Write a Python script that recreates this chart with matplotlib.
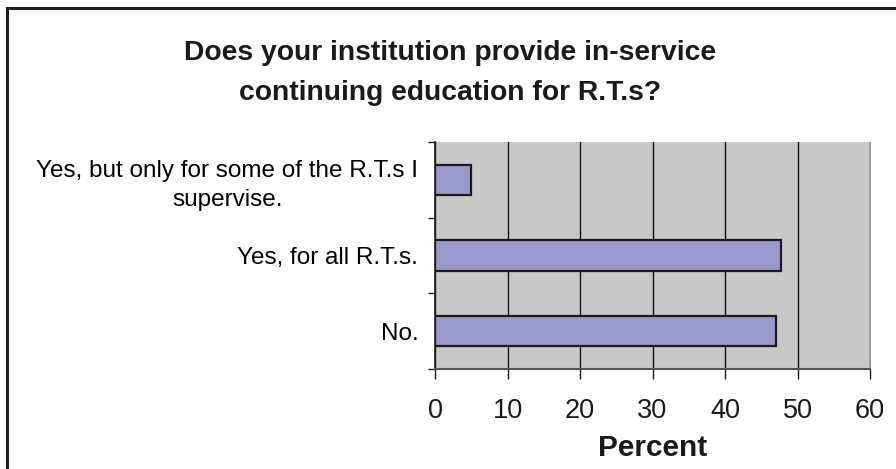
import matplotlib.pyplot as plt
from matplotlib.lines import Line2D

plt.rcParams['font.family'] = ['Liberation Sans', 'DejaVu Sans']

# survey answers, bottom to top
answers = ['No.', 'Yes, for all R.T.s.', 'Yes, but only for some of the R.T.s I\nsupervise.']
percent = [47.0, 47.7, 5.0]
xticks = [0, 10, 20, 30, 40, 50, 60]

fig = plt.figure(figsize=(8.96, 4.69), dpi=100)
ax = fig.add_axes([0.4855, 0.2132, 0.4855, 0.484])

ax.set_facecolor('#C8C8C8')
pos = list(range(len(answers)))
ax.barh(pos, percent, height=0.4, color='#9999CC', edgecolor='#1a1a1a', linewidth=1.6, zorder=3)

ax.set_xlim(0, 60)
ax.set_ylim(-0.5, len(answers) - 0.5)
ax.set_xticks(xticks)
ax.set_xticklabels([str(t) for t in xticks], fontsize=19.5)
ax.xaxis.grid(True, color='#111111', linewidth=1.0, zorder=1)
ax.tick_params(axis='x', length=7, width=1, pad=14, colors='#1a1a1a')

ax.set_yticks(pos)
ax.set_yticklabels(answers, fontsize=17.5, multialignment='center', linespacing=1.4)
ax.set_yticks([p - 0.5 for p in pos] + [len(answers) - 0.5], minor=True)
ax.tick_params(axis='y', which='major', length=0, pad=12)
ax.tick_params(axis='y', which='minor', length=5, width=1, color='#1a1a1a')

ax.spines['top'].set_visible(False)
ax.spines['right'].set_color('#999999')
ax.spines['left'].set_color('#1a1a1a')
ax.spines['bottom'].set_color('#555555')
ax.spines['left'].set_linewidth(1.2)
ax.spines['bottom'].set_linewidth(1.5)

ax.set_xlabel('Percent', fontsize=21.5, fontweight='bold', labelpad=7, color='#1a1a1a')

fig.text(0.502, 1 - 73 / 469, 'Does your institution provide in-service\ncontinuing education for R.T.s?',
         ha='center', va='center', fontsize=20.3, fontweight='bold', linespacing=1.7, color='#1a1a1a')

# outer frame on the top and left edges
fig.add_artist(Line2D([7 / 896, 1], [1 - 8 / 469, 1 - 8 / 469], transform=fig.transFigure,
                      color='#231f20', linewidth=2.2))
fig.add_artist(Line2D([7 / 896, 7 / 896], [0, 1 - 8 / 469], transform=fig.transFigure,
                      color='#231f20', linewidth=2.2))

fig.savefig('out.png', dpi=100)
